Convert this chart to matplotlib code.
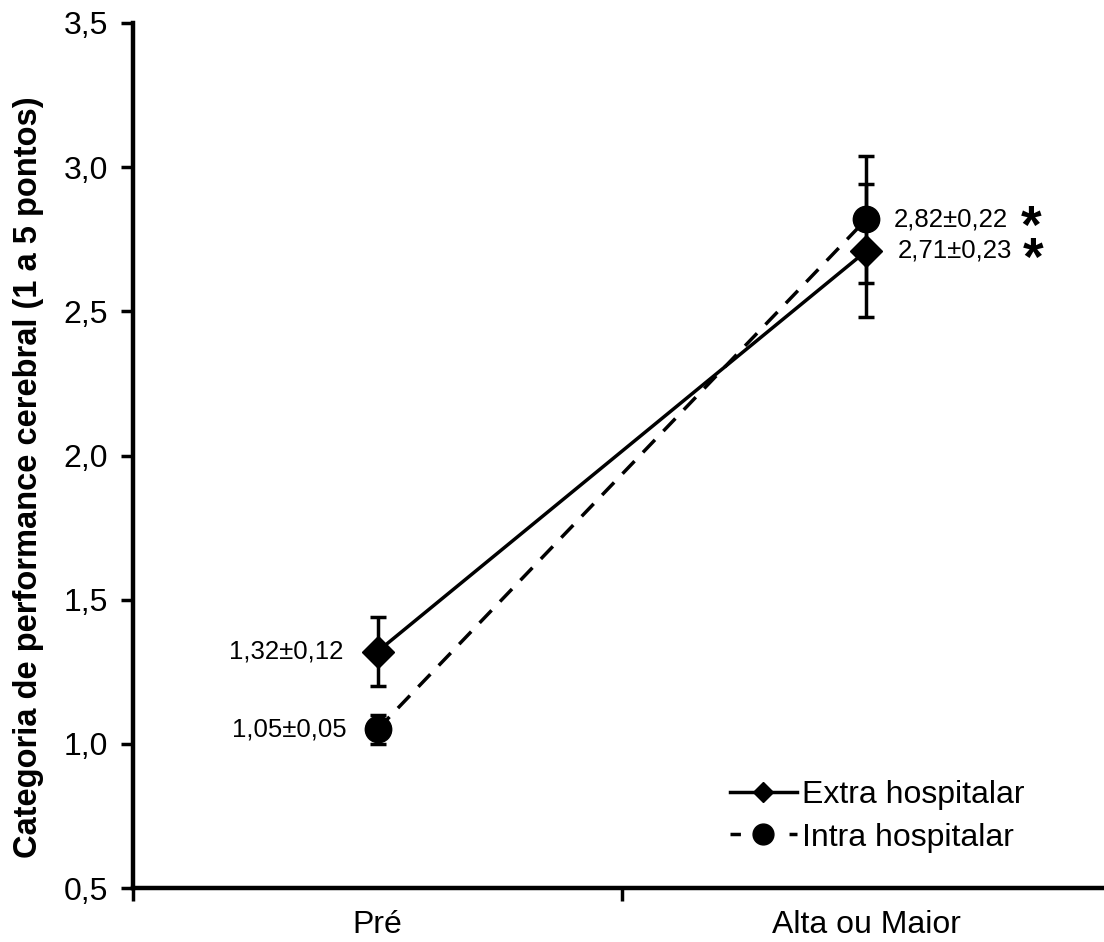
import matplotlib.pyplot as plt
from matplotlib.lines import Line2D

plt.rcParams['font.family'] = ['Liberation Sans', 'DejaVu Sans']

# data
momentos = ['Pré', 'Alta ou Maior']
extra_media = [1.32, 2.71]
extra_dp = [0.12, 0.23]
intra_media = [1.05, 2.82]
intra_dp = [0.05, 0.22]
extra_rotulos = ['1,32±0,12', '2,71±0,23']
intra_rotulos = ['1,05±0,05', '2,82±0,22']
significativo = [False, True]

xpos = [0.5, 1.5]

fig = plt.figure(figsize=(11.04, 9.42), dpi=100)
ax = fig.add_axes([133/1104, 54/942, 971/1104, 865/942])

lw = 2.5
# extra hospitalar
ax.errorbar(xpos, extra_media, yerr=extra_dp, color='black', lw=lw,
            marker='D', markersize=16, capsize=5.5, capthick=lw,
            elinewidth=lw, zorder=3)
# intra hospitalar
ax.errorbar(xpos, intra_media, yerr=intra_dp, color='black', lw=lw,
            ls=(0, (5, 3.5)), marker='o', markersize=19, capsize=5.5,
            capthick=lw, elinewidth=lw, zorder=3)

# rotulos
ax.text(xpos[0] - 0.07, extra_media[0], extra_rotulos[0], fontsize=18.5,
        ha='right', va='center')
ax.text(xpos[0] - 0.063, intra_media[0], intra_rotulos[0], fontsize=18.5,
        ha='right', va='center')
ax.text(xpos[1] + 0.055, intra_media[1], intra_rotulos[1], fontsize=18.5,
        ha='left', va='center')
ax.text(xpos[1] + 0.063, extra_media[1], extra_rotulos[1], fontsize=18.5,
        ha='left', va='center')
if significativo[1]:
    ax.text(1.815, intra_media[1] - 0.035, '*', fontsize=38, fontweight='bold',
            ha='left', va='center')
    ax.text(1.82, extra_media[1] - 0.035, '*', fontsize=38, fontweight='bold',
            ha='left', va='center')

ax.set_xlim(0, 971/489)
ax.set_ylim(0.5, 3.5)
ax.set_yticks([0.5, 1.0, 1.5, 2.0, 2.5, 3.0, 3.5])
ax.set_yticklabels(['0,5', '1,0', '1,5', '2,0', '2,5', '3,0', '3,5'])
ax.set_xticks([0, 1])
ax.set_xticklabels(['', ''])
ax.set_xticks(xpos, minor=True)
ax.set_xticklabels(momentos, minor=True)
ax.tick_params(axis='x', which='minor', length=0, labelsize=23, pad=16)
ax.tick_params(axis='x', which='major', length=9, width=lw, direction='out')
ax.tick_params(axis='y', length=9, width=lw, direction='out', labelsize=23, pad=9)

for s in ['top', 'right']:
    ax.spines[s].set_visible(False)
for s in ['left', 'bottom']:
    ax.spines[s].set_linewidth(3.2)

ax.set_ylabel('Categoria de performance cerebral (1 a 5 pontos)',
              fontsize=23.5, fontweight='bold')
ax.yaxis.set_label_coords(-0.092, 0.475)

handles = [
    Line2D([], [], color='black', lw=lw, marker='D', markersize=10),
    Line2D([], [], color='black', lw=lw, ls=(0, (3, 5.5)), marker='o', markersize=15),
]
ax.legend(handles, ['Extra hospitalar', 'Intra hospitalar'], frameon=False,
          fontsize=23, loc='upper left', bbox_to_anchor=(717/1104, 1 - 767/942),
          bbox_transform=fig.transFigure, handlelength=2.1, handletextpad=0.15,
          labelspacing=0.4, borderaxespad=0)

fig.savefig('out.png', dpi=100)
